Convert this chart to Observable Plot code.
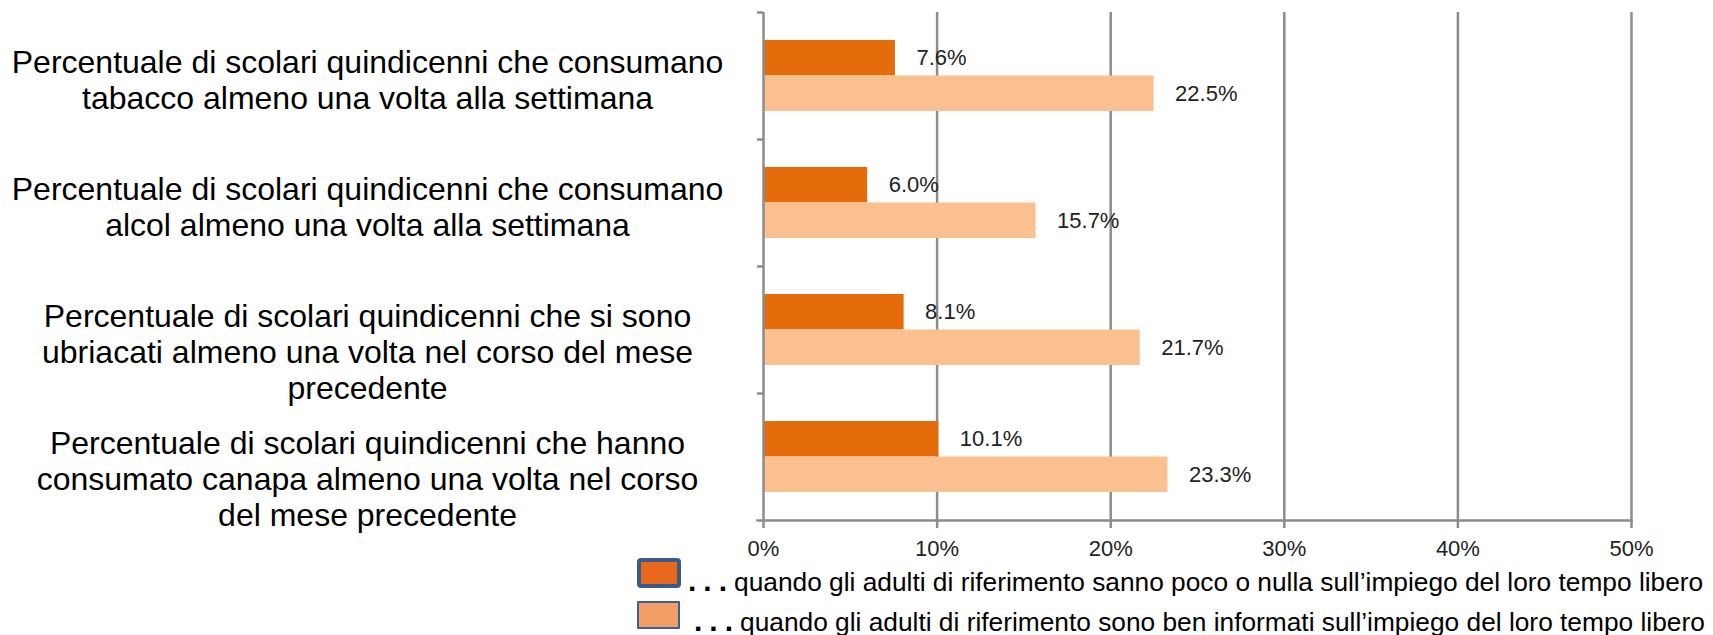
<!DOCTYPE html>
<html>
<head>
<meta charset="utf-8">
<script src="https://cdn.jsdelivr.net/npm/d3@7"></script>
<script src="https://cdn.jsdelivr.net/npm/@observablehq/plot@0.6"></script>
<style>
  html, body { margin: 0; padding: 0; background: #fff; }
  body { width: 1713px; height: 635px; overflow: hidden; font-family: "Liberation Sans", Arial, sans-serif; }
  #chart svg { display: block; }
  #legend { position: relative; width: 1713px; height: 77px; }
  #legend .sw { position: absolute; box-sizing: border-box; }
  #legend .row { position: absolute; white-space: nowrap; font-size: 26.3px; line-height: 26px; color: #000; }
  #legend .dots { font-weight: bold; font-size: 30px; letter-spacing: 7px; }
</style>
</head>
<body>
<div id="chart"></div>
<div id="legend"></div>
<script>
// ---- data ----
const categories = [
  "Percentuale di scolari quindicenni che consumano\ntabacco almeno una volta alla settimana",
  "Percentuale di scolari quindicenni che consumano\nalcol almeno una volta alla settimana",
  "Percentuale di scolari quindicenni che si sono\nubriacati almeno una volta nel corso del mese\nprecedente",
  "Percentuale di scolari quindicenni che hanno\nconsumato canapa almeno una volta nel corso\ndel mese precedente"
];
const seriesNames = [
  "quando gli adulti di riferimento sanno poco o nulla sull\u2019impiego del loro tempo libero",
  "quando gli adulti di riferimento sono ben informati sull\u2019impiego del loro tempo libero"
];
const poorlyInformed = [7.6, 6.0, 8.1, 10.1];
const wellInformed = [22.5, 15.7, 21.7, 23.3];
const xTicks = [0, 10, 20, 30, 40, 50];

const barColors = ["#E46C0A", "#FAC090"];
const legendFill = ["#E8691D", "#F29E66"];
const axisGray = "#8c8c8c";

const values = [poorlyInformed, wellInformed];
const rows = categories.flatMap((c, i) => values.map((v, s) => ({category: c, series: s, value: v[i]})));
const s0 = rows.filter(d => d.series === 0);
const s1 = rows.filter(d => d.series === 1);
const fmt = d => d.value.toFixed(1) + "%";

const chart = Plot.plot({
  width: 1713,
  height: 558,
  marginTop: 12,
  marginBottom: 38,
  marginLeft: 763,
  marginRight: 82,
  style: {fontFamily: "'Liberation Sans', Arial, sans-serif", fontSize: "22px", color: "#222", background: "#fff", overflow: "visible"},
  x: {domain: [0, 50], label: null},
  y: {domain: categories, padding: 0, label: null},
  marks: [
    Plot.gridX(xTicks.slice(1), {stroke: axisGray, strokeOpacity: 1, strokeWidth: 2.5}),
    Plot.barX(s0, {x: "value", y: "category", fill: barColors[0], insetTop: 28, insetBottom: 63.5}),
    Plot.barX(s1, {x: "value", y: "category", fill: barColors[1], insetTop: 63.5, insetBottom: 28}),
    Plot.ruleX([0], {stroke: axisGray, strokeWidth: 2.5}),
    Plot.frame({anchor: "bottom", stroke: axisGray, strokeWidth: 2.5, insetLeft: -6}),
    Plot.axisX({ticks: xTicks, tickFormat: d => d + "%", label: null, tickSize: 8, tickPadding: 12, stroke: axisGray, strokeWidth: 2.5, fill: "#222", fontSize: 22}),
    Plot.axisY({tickSize: 6, tickFormat: () => "", label: null, dy: -63.5, stroke: axisGray, strokeWidth: 2.5}),
    Plot.text(s0, {x: "value", y: "category", text: fmt, dx: 21, dy: -17.75, textAnchor: "start", fontSize: 22, fill: "#222"}),
    Plot.text(s1, {x: "value", y: "category", text: fmt, dx: 21, dy: 17.75, textAnchor: "start", fontSize: 22, fill: "#222"}),
    Plot.text(categories, {y: d => d, text: d => d, frameAnchor: "left", dx: -396, dy: -28.5, textAnchor: "middle", lineAnchor: "top", fontSize: 32, lineHeight: 1.125, fill: "#000"})
  ]
});
document.getElementById("chart").appendChild(chart);

// ---- legend (HTML, below the SVG) ----
const legend = document.getElementById("legend");
const swStyles = [
  {left: 637, top: 0, width: 44, height: 30, border: "4px solid #3B5A8C", radius: 4},
  {left: 637, top: 43, width: 43, height: 28, border: "2.5px solid #3E5F93", radius: 1}
];
const rowPos = [{left: 688, top: 10}, {left: 694, top: 50}];
seriesNames.forEach((name, i) => {
  const sw = document.createElement("div");
  sw.className = "sw";
  const st = swStyles[i];
  Object.assign(sw.style, {left: st.left + "px", top: st.top + "px", width: st.width + "px", height: st.height + "px",
    border: st.border, borderRadius: st.radius + "px", background: legendFill[i]});
  legend.appendChild(sw);
  const row = document.createElement("div");
  row.className = "row";
  row.style.left = rowPos[i].left + "px";
  row.style.top = rowPos[i].top + "px";
  const dots = document.createElement("span");
  dots.className = "dots";
  dots.textContent = "...";
  row.appendChild(dots);
  row.appendChild(document.createTextNode(name));
  legend.appendChild(row);
});
</script>
</body>
</html>
